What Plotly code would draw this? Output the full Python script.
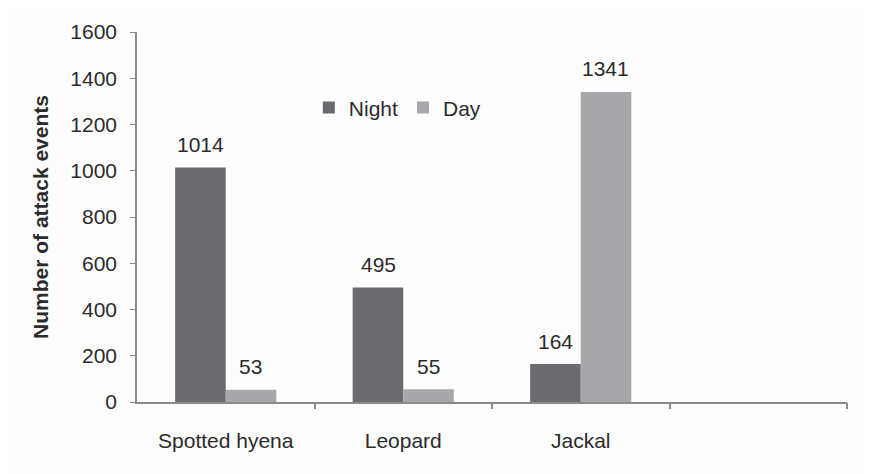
import plotly.graph_objects as go

categories = ["Spotted hyena", "Leopard", "Jackal", " "]
night = [1014, 495, 164, None]
day = [53, 55, 1341, None]
y_ticks = [0, 200, 400, 600, 800, 1000, 1200, 1400, 1600]

NIGHT_COLOR = "#6a6a6f"
DAY_COLOR = "#a8a8ac"
TEXT = "#2b2b2b"
AXIS = "#8a8a8a"
FONT = "Liberation Sans, Arial, sans-serif"
FS = 21

fig = go.Figure()
fig.add_trace(go.Bar(name="Night", x=categories, y=night, marker=dict(color=NIGHT_COLOR, line=dict(width=0))))
fig.add_trace(go.Bar(name="Day", x=categories, y=day, marker=dict(color=DAY_COLOR, line=dict(width=0))))

annotations = []
for cat, v in zip(categories, night):
    if v is not None:
        annotations.append(dict(x=cat, y=v, xref="x", yref="y", text=str(v), showarrow=False,
                                xshift=-25, yshift=23, font=dict(size=FS, color=TEXT, family=FONT)))
for cat, v in zip(categories, day):
    if v is not None:
        annotations.append(dict(x=cat, y=v, xref="x", yref="y", text=str(v), showarrow=False,
                                xshift=25, yshift=23, font=dict(size=FS, color=TEXT, family=FONT)))

# category boundary ticks (between categories and at the right end only)
boundaries = [i + 0.5 for i in range(len(categories))]

fig.update_layout(
    width=865, height=466,
    margin=dict(l=129, r=26, t=24, b=72),
    paper_bgcolor="#fdfdfd", plot_bgcolor="#fdfdfd",
    barmode="group", bargap=0.43, bargroupgap=0,
    font=dict(family=FONT, size=FS, color=TEXT),
    showlegend=True,
    legend=dict(orientation="h", x=0.242, y=0.795, xanchor="left", yanchor="middle",
                bgcolor="rgba(0,0,0,0)", font=dict(size=FS, color=TEXT), itemwidth=30),
    annotations=annotations,
    xaxis=dict(type="category", categoryorder="array", categoryarray=categories,
               range=[-0.5, 3.5], ticks="", showline=True, linecolor=AXIS, linewidth=1.5,
               showgrid=False, tickfont=dict(size=FS, color=TEXT), ticklabelstandoff=19,
               fixedrange=True),
    xaxis2=dict(overlaying="x", side="bottom", range=[-0.5, 3.5], tickvals=boundaries,
                ticks="outside", ticklen=6, tickcolor=AXIS, tickwidth=1.5, showticklabels=False,
                showline=False, showgrid=False, zeroline=False, anchor="y"),
    yaxis=dict(range=[0, 1600], tickvals=y_ticks, ticks="outside", ticklen=5,
               tickcolor=AXIS, showline=True, linecolor=AXIS, linewidth=1.5,
               showgrid=False, zeroline=False, tickfont=dict(size=FS, color=TEXT),
               ticklabelstandoff=9,
               title=dict(text="<b>Number of attack events</b>", font=dict(size=21, color=TEXT), standoff=16)),
)
# invisible helper trace to activate the boundary-tick axis
fig.add_trace(go.Scatter(x=[None], y=[None], xaxis="x2", yaxis="y", showlegend=False, hoverinfo="skip"))

fig.write_html("out.html")
